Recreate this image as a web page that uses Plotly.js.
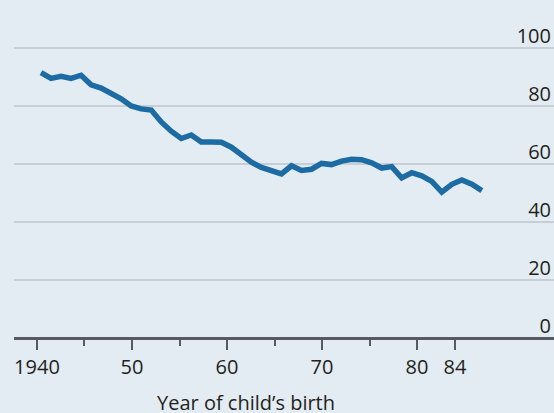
<!DOCTYPE html>
<html>
<head>
<meta charset="utf-8">
<script src="https://cdn.plot.ly/plotly-3.0.1.min.js"></script>
<style>
  html, body { margin: 0; padding: 0; background: #e3ecf2; }
  #chart { width: 554px; height: 413px; }
</style>
</head>
<body>
<div id="chart"></div>
<script>
// Year of child's birth
const years = [1940,1941,1942,1943,1944,1945,1946,1947,1948,1949,
               1950,1951,1952,1953,1954,1955,1956,1957,1958,1959,
               1960,1961,1962,1963,1964,1965,1966,1967,1968,1969,
               1970,1971,1972,1973,1974,1975,1976,1977,1978,1979,
               1980,1981,1982,1983,1984];
// % of children earning more than their parents
const share = [91.5,89.5,90.2,89.5,90.6,87.3,86.2,84.5,82.5,80.0,
               79.0,78.6,74.5,71.3,68.8,70.0,67.6,67.6,67.5,65.8,
               63.0,60.6,58.8,57.8,56.6,59.4,57.8,58.2,60.2,59.8,
               61.0,61.6,61.5,60.4,58.6,59.1,55.2,57.0,55.9,54.0,
               50.3,53.0,54.5,53.0,50.8];

const xTickVals = [1940,1950,1960,1970,1980,1984];
const xTickText = ["1940","50","60","70","80","84"];
const xMinorVals = [1945,1955,1965,1975];
const yTickVals = [0,20,40,60,80,100];
const yTickText = ["0","20","40","60","80","100"];
const xTitle = "Year of child\u2019s birth";

const font = {family: "'Open Sans', 'Noto Sans', sans-serif", size: 20, color: '#231f20'};

const trace = {
  x: years, y: share, xaxis: 'x2', yaxis: 'y',
  type: 'scatter', mode: 'lines',
  line: {color: '#1c6ba3', width: 5.5, shape: 'linear'},
  hoverinfo: 'skip'
};

const layout = {
  width: 554, height: 413,
  margin: {l: 14, r: 0, t: 10, b: 60},
  paper_bgcolor: '#e3ecf2', plot_bgcolor: '#e3ecf2',
  font: font,
  showlegend: false,
  xaxis: {
    range: [1937.58, 1994.42],
    anchor: 'free', position: 0.0437,
    showgrid: false, zeroline: false,
    showline: true, linecolor: '#555b5f', linewidth: 2.5,
    ticks: 'outside', ticklen: 10, tickwidth: 2.5, tickcolor: '#555b5f',
    tickmode: 'array', tickvals: xTickVals, ticktext: xTickText,
    minor: {tickmode: 'array', tickvals: xMinorVals, ticks: 'outside', ticklen: 6, tickwidth: 2, tickcolor: '#555b5f'},
    tickfont: font, fixedrange: true
  },
  xaxis2: {
    overlaying: 'x', anchor: 'y',
    range: [1937.305, 1991.2],
    visible: false, fixedrange: true
  },
  yaxis: {
    range: [-5.17, 113.1],
    side: 'right', ticklabelposition: 'inside',
    tickmode: 'array', tickvals: yTickVals, ticktext: yTickText,
    ticks: '', showline: false, zeroline: false,
    showgrid: true, gridcolor: '#c7cfd5', gridwidth: 2,
    ticklabelshift: -12,
    tickfont: font, fixedrange: true
  },
  annotations: [{
    text: xTitle, xref: 'x', yref: 'paper',
    x: 1962, y: 0, yshift: -49, yanchor: 'middle', xanchor: 'center',
    showarrow: false, font: font, borderpad: 0
  }]
};

Plotly.newPlot('chart', [trace], layout, {staticPlot: true, displayModeBar: false});
</script>
</body>
</html>
